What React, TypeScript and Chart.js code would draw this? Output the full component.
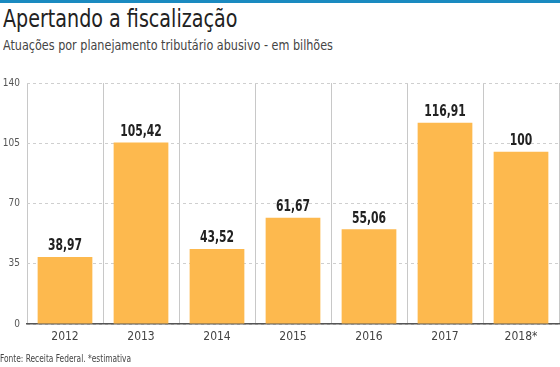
import React, { useEffect, useRef } from "react";
import { Chart, registerables } from "chart.js";

Chart.register(...registerables);

const categories = ["2012", "2013", "2014", "2015", "2016", "2017", "2018*"];
const values = [38.97, 105.42, 43.52, 61.67, 55.06, 116.91, 100];
const valueLabels = ["38,97", "105,42", "43,52", "61,67", "55,06", "116,91", "100"];
const yTicks = [0, 35, 70, 105, 140];

const FONT = "'Liberation Sans Narrow', 'DejaVu Sans Condensed', 'Roboto Condensed', sans-serif";

const labelPlugin = {
  id: "valueLabels",
  afterDatasetsDraw(chart: any) {
    const ctx = chart.ctx;
    const meta = chart.getDatasetMeta(0);
    const sx = 0.8;
    ctx.save();
    ctx.font = `bold 15px ${FONT}`;
    ctx.fillStyle = "#222";
    ctx.textAlign = "center";
    ctx.textBaseline = "bottom";
    meta.data.forEach((bar: any, i: number) => {
      ctx.save();
      ctx.translate(bar.x, bar.y - 3);
      ctx.scale(sx, 1);
      ctx.fillText(valueLabels[i], 0, 0);
      ctx.restore();
    });
    ctx.restore();
  },
};

export default function App() {
  const ref = useRef<HTMLCanvasElement>(null);
  useEffect(() => {
    document.body.style.margin = "0";
    const chart = new Chart(ref.current!, {
      type: "bar",
      data: {
        labels: categories,
        datasets: [
          {
            data: values,
            backgroundColor: "#FDB94E",
            categoryPercentage: 1,
            barPercentage: 0.72,
          },
        ],
      },
      options: {
        animation: false,
        responsive: false,
        layout: { padding: { top: 83, bottom: 18, right: 1, left: 0 } },
        plugins: { legend: { display: false }, tooltip: { enabled: false } },
        scales: {
          x: {
            grid: {
              offset: true,
              color: (c: any) => (c.index === categories.length ? "rgba(0,0,0,0)" : "#c8c8c8"),
              drawTicks: false,
            },
            border: { display: true, color: "#555", width: 1.5 },
            ticks: { color: "#444", font: { family: FONT, size: 12 }, padding: 6 },
            afterFit: (s: any) => {
              s.height = 25;
            },
          },
          y: {
            min: 0,
            max: 140,
            afterBuildTicks: (s: any) => {
              s.ticks = yTicks.map((v) => ({ value: v }));
            },
            grid: { color: "#cfcfcf", drawTicks: false },
            border: { display: false, dash: [3, 3] },
            ticks: { color: "#555", font: { family: FONT, size: 10 }, padding: 7 },
            afterFit: (s: any) => {
              s.width = 27;
            },
          },
        },
      },
      plugins: [labelPlugin],
    });
    return () => chart.destroy();
  }, []);

  const cond = (sx: number) => ({ transform: `scaleX(${sx})`, transformOrigin: "left top" });

  return (
    <div style={{ position: "relative", width: 560, height: 367, background: "#fff", fontFamily: FONT, overflow: "hidden" }}>
      <div style={{ position: "absolute", left: 0, top: 0, width: 560, height: 3, background: "#1A8AC0" }} />
      <div style={{ position: "absolute", left: 3, top: 4, fontSize: 25, color: "#222", lineHeight: "30px", whiteSpace: "nowrap", ...cond(0.85) }}>
        Apertando a fiscalização
      </div>
      <div style={{ position: "absolute", left: 3, top: 36, fontSize: 14, color: "#444", lineHeight: "18px", whiteSpace: "nowrap", ...cond(0.89) }}>
        Atuações por planejamento tributário abusivo - em bilhões
      </div>
      <canvas ref={ref} width={560} height={367} style={{ position: "absolute", left: 0, top: 0 }} />
      <div style={{ position: "absolute", left: 0, top: 353, fontSize: 10, color: "#444", lineHeight: "12px", whiteSpace: "nowrap", ...cond(0.83) }}>
        Fonte: Receita Federal. *estimativa
      </div>
    </div>
  );
}
